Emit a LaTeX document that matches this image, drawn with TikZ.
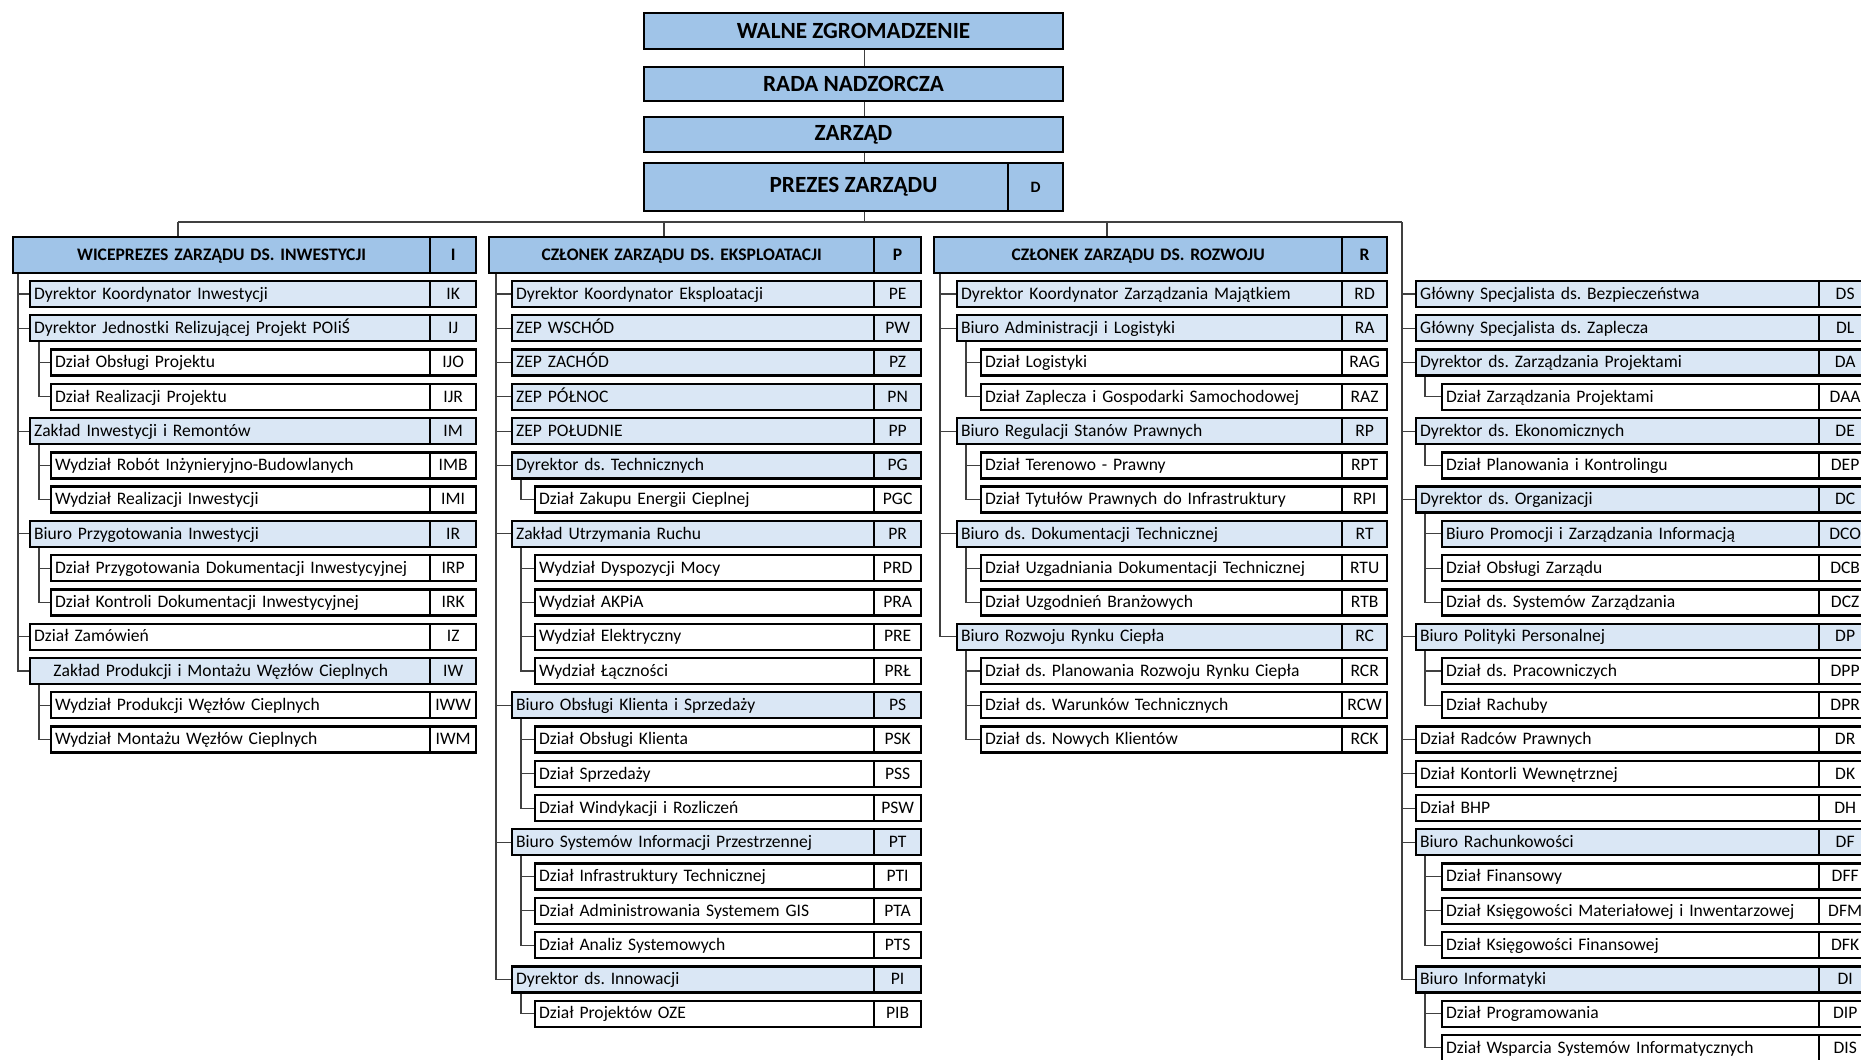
\documentclass[tikz,border=0pt]{standalone}
\usepackage{fontspec}
\setmainfont{Carlito}
\frenchspacing
\definecolor{niebieski}{RGB}{160,196,232}
\definecolor{jasny}{RGB}{218,231,245}
\tikzset{
  ramka/.style={draw, line width=1.3pt, inner xsep=0.08cm, inner ysep=0pt,
    minimum height=0.52cm, text height=6.6pt, text depth=0.6pt,
    font=\fontsize{10}{12}\selectfont, align=left},
  dzial1/.style={ramka, fill=jasny},
  dzial2/.style={ramka, fill=white},
  naglowek/.style={ramka, fill=niebieski, minimum height=0.72cm,
    font=\bfseries\fontsize{10}{12}\selectfont, align=center},
  zarzad/.style={draw, line width=1.3pt, fill=niebieski, minimum width=8.38cm,
    font=\bfseries\fontsize{13.2}{15}\selectfont},
  linia/.style={line width=0.6pt, draw=black!75}
}
% wiersz: nazwa, styl, x lewej krawedzi, numer wiersza, tekst, kod
\newcommand{\wiersz}[6]{%
  \pgfmathsetlengthmacro\szer{(\kdz-#3)*0.02cm-0.16cm}%
  \pgfmathsetlengthmacro\szerk{(\kpr-\kdz)*0.02cm}%
  \node[#2, anchor=west, text width=\szer] (#1) at (#3,{294+34.27*(#4)}) {#5};
  \node[#2, anchor=west, text width={}, minimum width=\szerk, align=center] (#1k) at (\kdz,{294+34.27*(#4)}) {#6};
}
\begin{document}
\begin{tikzpicture}[x=0.02cm,y=-0.02cm]
  %ramka obrazka
  	\useasboundingbox (0,0) rectangle (1861,1059);

  %zarzad spolki
  	\node[zarzad, minimum height=0.72cm] (walne) at (853.5,31) {WALNE ZGROMADZENIE};
  	\node[zarzad, minimum height=0.68cm] (rada) at (853.5,84) {RADA NADZORCZA};
  	\node[zarzad, minimum height=0.70cm] (zarzad) at (853.5,134.5) {ZARZĄD};
  	\node[zarzad, minimum height=0.96cm] (prezes) at (853.5,187) {PREZES ZARZĄDU};
  	\node[zarzad, minimum width=1.1cm, minimum height=0.96cm, font=\bfseries\fontsize{9}{10}\selectfont] (D) at (1035.5,187) {D};
  	\draw[linia] ([shift={(11,0)}]walne.south) -- ([shift={(11,0)}]rada.north);
  	\draw[linia] ([shift={(11,0)}]rada.south) -- ([shift={(11,0)}]zarzad.north);
  	\draw[linia] ([shift={(11,0)}]zarzad.south) -- ([shift={(11,0)}]prezes.north);

  %szyna pod prezesem
  	\coordinate (k1) at (178,222);
  	\coordinate (k2) at (664,222);
  	\coordinate (k3) at (1107,222);
  	\coordinate (k4) at (1402,222);
  	\draw[linia] ([shift={(11,0)}]prezes.south) -- ([shift={(11,0)}]prezes.south |- k1);
  	\draw[linia] (k1) -- (k4);

  %kolumna 1 - inwestycje
  	\def\kdz{429}\def\kpr{475}
  	\wiersz{I}{naglowek}{12}{-1.138}{WICEPREZES ZARZĄDU DS. INWESTYCJI}{I}
  	\wiersz{IK}{dzial1}{29}{0}{Dyrektor Koordynator Inwestycji}{IK}
  	\wiersz{IJ}{dzial1}{29}{1}{Dyrektor Jednostki Relizującej Projekt POIiŚ}{IJ}
  	\wiersz{IJO}{dzial2}{50}{2}{Dział Obsługi Projektu}{IJO}
  	\wiersz{IJR}{dzial2}{50}{3}{Dział Realizacji Projektu}{IJR}
  	\wiersz{IM}{dzial1}{29}{4}{Zakład Inwestycji i Remontów}{IM}
  	\wiersz{IMB}{dzial2}{50}{5}{Wydział Robót Inżynieryjno-Budowlanych}{IMB}
  	\wiersz{IMI}{dzial2}{50}{6}{Wydział Realizacji Inwestycji}{IMI}
  	\wiersz{IR}{dzial1}{29}{7}{Biuro Przygotowania Inwestycji}{IR}
  	\wiersz{IRP}{dzial2}{50}{8}{Dział Przygotowania Dokumentacji Inwestycyjnej}{IRP}
  	\wiersz{IRK}{dzial2}{50}{9}{Dział Kontroli Dokumentacji Inwestycyjnej}{IRK}
  	\wiersz{IZ}{dzial2}{29}{10}{Dział Zamówień}{IZ}
  	\wiersz{IW}{dzial1}{29}{11}{\hspace*{11pt}Zakład Produkcji i Montażu Węzłów Cieplnych}{IW}
  	\wiersz{IWW}{dzial2}{50}{12}{Wydział Produkcji Węzłów Cieplnych}{IWW}
  	\wiersz{IWM}{dzial2}{50}{13}{Wydział Montażu Węzłów Cieplnych}{IWM}
  	\draw[linia] (k1) -- (k1 |- I.north);
  	\foreach \d in {IK,IJ,IM,IR,IZ,IW} \draw[linia] ([shift={(6,0)}]I.south west) |- (\d.west);
  	\foreach \d in {IJO,IJR} \draw[linia] ([shift={(10,0)}]IJ.south west) |- (\d.west);
  	\foreach \d in {IMB,IMI} \draw[linia] ([shift={(10,0)}]IM.south west) |- (\d.west);
  	\foreach \d in {IRP,IRK} \draw[linia] ([shift={(10,0)}]IR.south west) |- (\d.west);
  	\foreach \d in {IWW,IWM} \draw[linia] ([shift={(10,0)}]IW.south west) |- (\d.west);

  %kolumna 2 - eksploatacja
  	\def\kdz{873}\def\kpr{920}
  	\wiersz{P}{naglowek}{488}{-1.138}{CZŁONEK ZARZĄDU DS. EKSPLOATACJI}{P}
  	\wiersz{PE}{dzial1}{511}{0}{Dyrektor Koordynator Eksploatacji}{PE}
  	\wiersz{PW}{dzial1}{511}{1}{ZEP WSCHÓD}{PW}
  	\wiersz{PZ}{dzial1}{511}{2}{ZEP ZACHÓD}{PZ}
  	\wiersz{PN}{dzial1}{511}{3}{ZEP PÓŁNOC}{PN}
  	\wiersz{PP}{dzial1}{511}{4}{ZEP POŁUDNIE}{PP}
  	\wiersz{PG}{dzial1}{511}{5}{Dyrektor ds. Technicznych}{PG}
  	\wiersz{PGC}{dzial2}{534}{6}{Dział Zakupu Energii Cieplnej}{PGC}
  	\wiersz{PR}{dzial1}{511}{7}{Zakład Utrzymania Ruchu}{PR}
  	\wiersz{PRD}{dzial2}{534}{8}{Wydział Dyspozycji Mocy}{PRD}
  	\wiersz{PRA}{dzial2}{534}{9}{Wydział AKPiA}{PRA}
  	\wiersz{PRE}{dzial2}{534}{10}{Wydział Elektryczny}{PRE}
  	\wiersz{PRL}{dzial2}{534}{11}{Wydział Łączności}{PRŁ}
  	\wiersz{PS}{dzial1}{511}{12}{Biuro Obsługi Klienta i Sprzedaży}{PS}
  	\wiersz{PSK}{dzial2}{534}{13}{Dział Obsługi Klienta}{PSK}
  	\wiersz{PSS}{dzial2}{534}{14}{Dział Sprzedaży}{PSS}
  	\wiersz{PSW}{dzial2}{534}{15}{Dział Windykacji i Rozliczeń}{PSW}
  	\wiersz{PT}{dzial1}{511}{16}{Biuro Systemów Informacji Przestrzennej}{PT}
  	\wiersz{PTI}{dzial2}{534}{17}{Dział Infrastruktury Technicznej}{PTI}
  	\wiersz{PTA}{dzial2}{534}{18}{Dział Administrowania Systemem GIS}{PTA}
  	\wiersz{PTS}{dzial2}{534}{19}{Dział Analiz Systemowych}{PTS}
  	\wiersz{PI}{dzial1}{511}{20}{Dyrektor ds. Innowacji}{PI}
  	\wiersz{PIB}{dzial2}{534}{21}{Dział Projektów OZE}{PIB}
  	\draw[linia] (k2) -- (k2 |- P.north);
  	\foreach \d in {PE,PW,PZ,PN,PP,PG,PR,PS,PT,PI} \draw[linia] ([shift={(8,0)}]P.south west) |- (\d.west);
  	\draw[linia] ([shift={(10,0)}]PG.south west) |- (PGC.west);
  	\foreach \d in {PRD,PRA,PRE,PRL} \draw[linia] ([shift={(10,0)}]PR.south west) |- (\d.west);
  	\foreach \d in {PSK,PSS,PSW} \draw[linia] ([shift={(10,0)}]PS.south west) |- (\d.west);
  	\foreach \d in {PTI,PTA,PTS} \draw[linia] ([shift={(10,0)}]PT.south west) |- (\d.west);
  	\draw[linia] ([shift={(10,0)}]PI.south west) |- (PIB.west);

  %kolumna 3 - rozwoj
  	\def\kdz{1341}\def\kpr{1386}
  	\wiersz{R}{naglowek}{933}{-1.138}{CZŁONEK ZARZĄDU DS. ROZWOJU}{R}
  	\wiersz{RD}{dzial1}{956}{0}{Dyrektor Koordynator Zarządzania Majątkiem}{RD}
  	\wiersz{RA}{dzial1}{956}{1}{Biuro Administracji i Logistyki}{RA}
  	\wiersz{RAG}{dzial2}{980}{2}{Dział Logistyki}{RAG}
  	\wiersz{RAZ}{dzial2}{980}{3}{Dział Zaplecza i Gospodarki Samochodowej}{RAZ}
  	\wiersz{RP}{dzial1}{956}{4}{Biuro Regulacji Stanów Prawnych}{RP}
  	\wiersz{RPT}{dzial2}{980}{5}{Dział Terenowo - Prawny}{RPT}
  	\wiersz{RPI}{dzial2}{980}{6}{Dział Tytułów Prawnych do Infrastruktury}{RPI}
  	\wiersz{RT}{dzial1}{956}{7}{Biuro ds. Dokumentacji Technicznej}{RT}
  	\wiersz{RTU}{dzial2}{980}{8}{Dział Uzgadniania Dokumentacji Technicznej}{RTU}
  	\wiersz{RTB}{dzial2}{980}{9}{Dział Uzgodnień Branżowych}{RTB}
  	\wiersz{RC}{dzial1}{956}{10}{Biuro Rozwoju Rynku Ciepła}{RC}
  	\wiersz{RCR}{dzial2}{980}{11}{Dział ds. Planowania Rozwoju Rynku Ciepła}{RCR}
  	\wiersz{RCW}{dzial2}{980}{12}{Dział ds. Warunków Technicznych}{RCW}
  	\wiersz{RCK}{dzial2}{980}{13}{Dział ds. Nowych Klientów}{RCK}
  	\draw[linia] (k3) -- (k3 |- R.north);
  	\foreach \d in {RD,RA,RP,RT,RC} \draw[linia] ([shift={(7,0)}]R.south west) |- (\d.west);
  	\foreach \d in {RAG,RAZ} \draw[linia] ([shift={(10,0)}]RA.south west) |- (\d.west);
  	\foreach \d in {RPT,RPI} \draw[linia] ([shift={(10,0)}]RP.south west) |- (\d.west);
  	\foreach \d in {RTU,RTB} \draw[linia] ([shift={(10,0)}]RT.south west) |- (\d.west);
  	\foreach \d in {RCR,RCW,RCK} \draw[linia] ([shift={(10,0)}]RC.south west) |- (\d.west);

  %kolumna 4 - podlegle prezesowi
  	\def\kdz{1818}\def\kpr{1870}
  	\wiersz{DS}{dzial1}{1415}{0}{Główny Specjalista ds. Bezpieczeństwa}{DS}
  	\wiersz{DL}{dzial1}{1415}{1}{Główny Specjalista ds. Zaplecza}{DL}
  	\wiersz{DA}{dzial1}{1415}{2}{Dyrektor ds. Zarządzania Projektami}{DA}
  	\wiersz{DAA}{dzial2}{1441}{3}{Dział Zarządzania Projektami}{DAA}
  	\wiersz{DE}{dzial1}{1415}{4}{Dyrektor ds. Ekonomicznych}{DE}
  	\wiersz{DEP}{dzial2}{1441}{5}{Dział Planowania i Kontrolingu}{DEP}
  	\wiersz{DC}{dzial1}{1415}{6}{Dyrektor ds. Organizacji}{DC}
  	\wiersz{DCO}{dzial1}{1441}{7}{Biuro Promocji i Zarządzania Informacją}{DCO}
  	\wiersz{DCB}{dzial2}{1441}{8}{Dział Obsługi Zarządu}{DCB}
  	\wiersz{DCZ}{dzial2}{1441}{9}{Dział ds. Systemów Zarządzania}{DCZ}
  	\wiersz{DP}{dzial1}{1415}{10}{Biuro Polityki Personalnej}{DP}
  	\wiersz{DPP}{dzial2}{1441}{11}{Dział ds. Pracowniczych}{DPP}
  	\wiersz{DPR}{dzial2}{1441}{12}{Dział Rachuby}{DPR}
  	\wiersz{DR}{dzial2}{1415}{13}{Dział Radców Prawnych}{DR}
  	\wiersz{DK}{dzial2}{1415}{14}{Dział Kontorli Wewnętrznej}{DK}
  	\wiersz{DH}{dzial2}{1415}{15}{Dział BHP}{DH}
  	\wiersz{DF}{dzial1}{1415}{16}{Biuro Rachunkowości}{DF}
  	\wiersz{DFF}{dzial2}{1441}{17}{Dział Finansowy}{DFF}
  	\wiersz{DFM}{dzial2}{1441}{18}{Dział Księgowości Materiałowej i Inwentarzowej}{DFM}
  	\wiersz{DFK}{dzial2}{1441}{19}{Dział Księgowości Finansowej}{DFK}
  	\wiersz{DI}{dzial1}{1415}{20}{Biuro Informatyki}{DI}
  	\wiersz{DIP}{dzial2}{1441}{21}{Dział Programowania}{DIP}
  	\wiersz{DIS}{dzial2}{1441}{22}{Dział Wsparcia Systemów Informatycznych}{DIS}
  	\foreach \d in {DS,DL,DA,DE,DC,DP,DR,DK,DH,DF,DI} \draw[linia] (k4) |- (\d.west);
  	\draw[linia] ([shift={(10,0)}]DA.south west) |- (DAA.west);
  	\draw[linia] ([shift={(10,0)}]DE.south west) |- (DEP.west);
  	\foreach \d in {DCO,DCB,DCZ} \draw[linia] ([shift={(10,0)}]DC.south west) |- (\d.west);
  	\foreach \d in {DPP,DPR} \draw[linia] ([shift={(10,0)}]DP.south west) |- (\d.west);
  	\foreach \d in {DFF,DFM,DFK} \draw[linia] ([shift={(10,0)}]DF.south west) |- (\d.west);
  	\foreach \d in {DIP,DIS} \draw[linia] ([shift={(10,0)}]DI.south west) |- (\d.west);
\end{tikzpicture}
\end{document}
